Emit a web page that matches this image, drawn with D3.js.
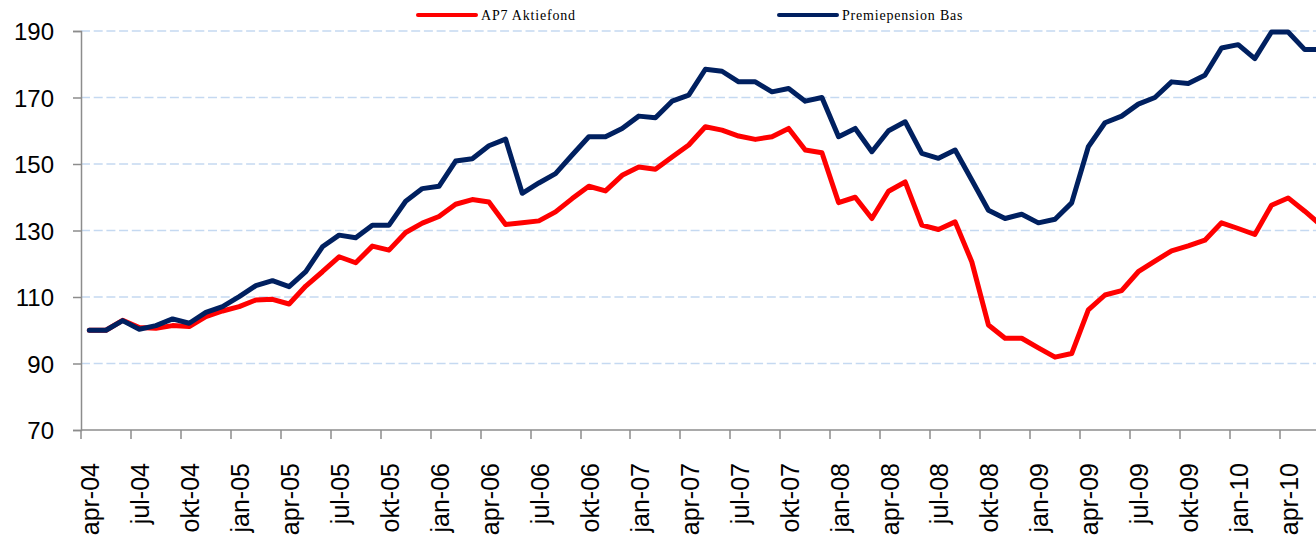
<!DOCTYPE html>
<html>
<head>
<meta charset="utf-8">
<script src="https://cdn.jsdelivr.net/npm/d3@7"></script>
<style>
  html, body { margin: 0; padding: 0; background: #ffffff; overflow: hidden; }
  .axisText { font-family: "Liberation Sans", Arial, sans-serif; fill: #000000; }
  .legendText { font-family: "Liberation Serif", "Times New Roman", serif; font-size: 14px; letter-spacing: 0.8px; fill: #000000; }
</style>
</head>
<body>
<div id="my_dataviz"></div>
<script>
// month categories, apr-04 .. jun-10
var months = [
  "apr-04", "maj-04", "jun-04", "jul-04", "aug-04", "sep-04", "okt-04", "nov-04", "dec-04",
  "jan-05", "feb-05", "mar-05", "apr-05", "maj-05", "jun-05", "jul-05", "aug-05", "sep-05", "okt-05", "nov-05", "dec-05",
  "jan-06", "feb-06", "mar-06", "apr-06", "maj-06", "jun-06", "jul-06", "aug-06", "sep-06", "okt-06", "nov-06", "dec-06",
  "jan-07", "feb-07", "mar-07", "apr-07", "maj-07", "jun-07", "jul-07", "aug-07", "sep-07", "okt-07", "nov-07", "dec-07",
  "jan-08", "feb-08", "mar-08", "apr-08", "maj-08", "jun-08", "jul-08", "aug-08", "sep-08", "okt-08", "nov-08", "dec-08",
  "jan-09", "feb-09", "mar-09", "apr-09", "maj-09", "jun-09", "jul-09", "aug-09", "sep-09", "okt-09", "nov-09", "dec-09",
  "jan-10", "feb-10", "mar-10", "apr-10", "maj-10", "jun-10"
];

// AP7 Aktiefond
var ap7 = [
  100, 100, 103, 100.8, 100.6, 101.4, 101.1, 104.1, 105.8,
  107.1, 109.1, 109.3, 107.9, 113.3, 117.6, 122.1, 120.3, 125.3, 124.1, 129.4, 132.2,
  134.2, 137.9, 139.3, 138.6, 131.8, 132.3, 132.9, 135.6, 139.6, 143.3, 141.9, 146.6,
  149.1, 148.4, 152.1, 155.7, 161.2, 160.2, 158.4, 157.4, 158.2, 160.7, 154.2, 153.4,
  138.4, 140, 133.6, 141.8, 144.6, 131.6, 130.3, 132.6, 120.6, 101.6, 97.6, 97.6,
  94.7, 91.9, 93, 106.1, 110.6, 111.9, 117.6, 120.8, 123.9, 125.4, 127.1, 132.3,
  130.6, 128.8, 137.6, 139.8, 135.8, 131.5
];

// Premiepension Bas
var ppBas = [
  100, 100, 102.9, 100.3, 101.4, 103.4, 102.1, 105.4, 107.1,
  110.1, 113.4, 114.9, 113.1, 117.6, 125.1, 128.6, 127.8, 131.6, 131.6, 138.8, 142.6,
  143.3, 150.9, 151.6, 155.5, 157.5, 141.2, 144.3, 147.1, 152.7, 158.2, 158.2, 160.7,
  164.4, 163.9, 168.9, 170.7, 178.5, 177.9, 174.7, 174.7, 171.7, 172.7, 168.9, 170,
  158.2, 160.7, 153.7, 160, 162.7, 153.2, 151.7, 154.2, 145.2, 136.1, 133.6, 134.9,
  132.3, 133.4, 138.3, 155.2, 162.4, 164.4, 168, 170, 174.7, 174.2, 176.7, 184.9,
  185.9, 181.7, 189.7, 189.7, 184.4, 184.4
];

var yTicks = [70, 90, 110, 130, 150, 170, 190];
var seriesNames = ["AP7 Aktiefond", "Premiepension Bas"];
var seriesColors = ["#ff0000", "#002060"];

var svgWidth = 1316;
var svgHeight = 536;

// plot area (runs past the right edge, like the cropped original)
var plotLeft = 81;
var plotTop = 31;
var plotBottom = 430;
var bandWidth = 16.65;
var plotRight = plotLeft + bandWidth * months.length;

var svg = d3
  .select("#my_dataviz")
  .append("svg")
  .attr("width", svgWidth)
  .attr("height", svgHeight);

var x = d3
  .scaleBand()
  .domain(months)
  .range([plotLeft, plotRight])
  .padding(0);

var y = d3
  .scaleLinear()
  .domain([70, 190])
  .range([plotBottom, plotTop]);

// dashed grid lines
svg
  .append("g")
  .selectAll("line")
  .data(yTicks.filter(function (d) { return d > 70; }))
  .enter()
  .append("line")
  .attr("x1", plotLeft)
  .attr("x2", svgWidth)
  .attr("y1", function (d) { return y(d); })
  .attr("y2", function (d) { return y(d); })
  .attr("stroke", "#c5d9f1")
  .attr("stroke-width", 1.5)
  .attr("stroke-dasharray", "9,3.7");

// y axis
var yAxis = svg
  .append("g")
  .attr("transform", "translate(" + plotLeft + ",0)")
  .call(d3.axisLeft(y).tickValues(yTicks).tickSize(8).tickPadding(19));
yAxis.select(".domain").attr("stroke", "#8c8c8c").attr("stroke-width", 1.5);
yAxis.selectAll(".tick line").attr("stroke", "#8c8c8c").attr("stroke-width", 1.5);
yAxis
  .selectAll(".tick text")
  .attr("class", "axisText")
  .style("font-size", "24px")
  .attr("dy", "0.36em");

// x axis: ticks between every third month
var tickMonths = months.filter(function (d, i) { return i % 3 === 0; });
var xAxisG = svg.append("g");
xAxisG
  .append("line")
  .attr("x1", plotLeft)
  .attr("x2", plotRight)
  .attr("y1", plotBottom)
  .attr("y2", plotBottom)
  .attr("stroke", "#8c8c8c")
  .attr("stroke-width", 1.5);
xAxisG
  .selectAll("tickLines")
  .data(tickMonths)
  .enter()
  .append("line")
  .attr("x1", function (d) { return Math.round(x(d)); })
  .attr("x2", function (d) { return Math.round(x(d)); })
  .attr("y1", plotBottom)
  .attr("y2", plotBottom + 9)
  .attr("stroke", "#8c8c8c")
  .attr("stroke-width", 1.5);
xAxisG
  .selectAll("tickLabels")
  .data(tickMonths)
  .enter()
  .append("text")
  .attr("class", "axisText")
  .style("font-size", "25px")
  .attr("text-anchor", "end")
  .attr("dy", "0.36em")
  .attr("transform", function (d) {
    return "translate(" + (x(d) + x.bandwidth() / 2 + 1) + "," + (plotBottom + 33) + ") rotate(-90)";
  })
  .text(function (d) { return d; });

// lines, red first so the navy sits on top
var line = d3
  .line()
  .x(function (d, i) { return x(months[i]) + x.bandwidth() / 2; })
  .y(function (d) { return y(d); });

[ap7, ppBas].forEach(function (vals, s) {
  svg
    .append("path")
    .datum(vals)
    .attr("d", line)
    .attr("fill", "none")
    .attr("stroke", seriesColors[s])
    .attr("stroke-width", 5)
    .attr("stroke-linejoin", "round")
    .attr("stroke-linecap", "round");
});

// legend
var legendX = [418, 779];
var legend = svg
  .append("g")
  .selectAll("g")
  .data(seriesNames)
  .enter()
  .append("g")
  .attr("transform", function (d, i) { return "translate(" + legendX[i] + ",15)"; });
legend
  .append("line")
  .attr("x1", 0)
  .attr("x2", 58)
  .attr("stroke", function (d, i) { return seriesColors[i]; })
  .attr("stroke-width", 4)
  .attr("stroke-linecap", "round");
legend
  .append("text")
  .attr("class", "legendText")
  .attr("x", 63)
  .attr("y", 5.3)
  .text(function (d) { return d; });
</script>
</body>
</html>
